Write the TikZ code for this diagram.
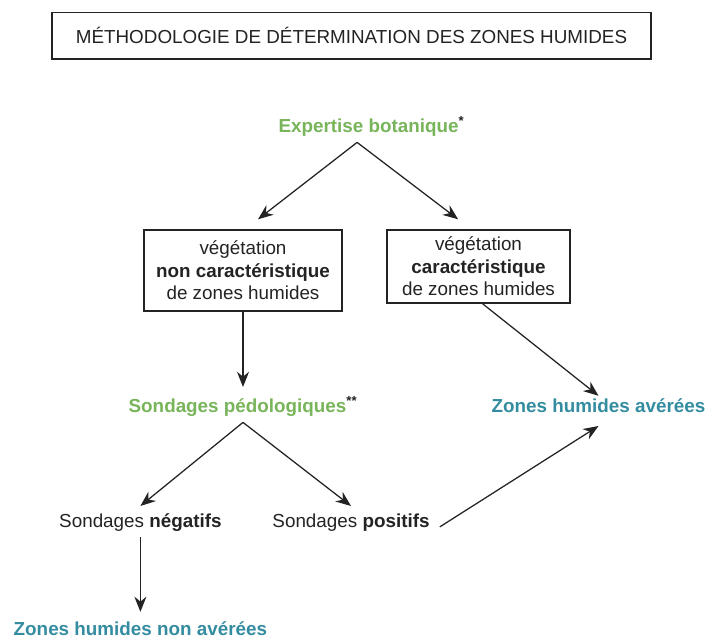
\documentclass[tikz,border=0pt]{standalone}
\usepackage{fontspec}
\setmainfont{Liberation Sans}
\usetikzlibrary{arrows.meta}
\definecolor{botgreen}{RGB}{120,180,90}
\definecolor{zoneblue}{RGB}{52,140,160}
\definecolor{inkgray}{RGB}{35,35,35}

\begin{document}
\begin{tikzpicture}[
  font=\fontsize{13.4pt}{16pt}\selectfont,
  text=inkgray,
  box/.style={draw=inkgray, line width=1pt, rectangle, align=center, inner sep=0pt},
  txt/.style={inner sep=0.15cm, text height=0.75em, text depth=0.25em},
  arr/.style={draw=inkgray, line width=0.9pt, -{Stealth[length=0.38cm, width=0.3cm]}},
]
\useasboundingbox (0,0) rectangle (17.75,16);

% --- Title ---
\node[box, minimum width=14.975cm, minimum height=1.16cm] (title) at (8.7875, 15.104)
  {MÉTHODOLOGIE DE DÉTERMINATION DES ZONES HUMIDES};

% --- Botanical step ---
\node[txt, text=botgreen] (expertise) at (9.2875, 12.7725)
  {\textbf{Expertise botanique}\textsuperscript{\color{inkgray}\textbf{*}}};

\node[box, minimum width=4.95cm, minimum height=2.025cm] (nonveg) at (6.075, 9.2375)
  {végétation\\\textbf{non caractéristique}\\de zones humides};
\node[box, minimum width=4.575cm, minimum height=1.825cm] (veg) at (11.9625, 9.3375)
  {végétation\\\textbf{caractéristique}\\de zones humides};

% --- Soil step ---
\node[txt, text=botgreen] (pedo) at (6.075, 5.7725)
  {\textbf{Sondages pédologiques}\textsuperscript{\color{inkgray}\textbf{**}}};
\node[txt, text=zoneblue] (avere) at (14.9625, 5.7725) {\textbf{Zones humides avérées}};

\node[txt] (neg) at (3.51, 2.8975) {Sondages \textbf{négatifs}};
\node[txt] (pos) at (8.775, 2.8975) {Sondages \textbf{positifs}};

\node[txt, text=zoneblue] (nonavere) at (3.51, 0.2) {\textbf{Zones humides non avérées}};

% --- Connectors ---
\draw[arr] ([xshift=-0.36cm]expertise.south) -- ([xshift=0.375cm, yshift=0.25cm]nonveg.north);
\draw[arr] ([xshift=-0.36cm]expertise.south) -- ([xshift=-0.51cm, yshift=0.25cm]veg.north);
\draw[arr] (nonveg.south) -- ([yshift=0.22cm]pedo.north);
\draw[arr] ([xshift=0.1cm]veg.south) -- (avere.north);
\draw[arr] (pedo.south) -- ([yshift=0.12cm]neg.north);
\draw[arr] (pedo.south) -- ([yshift=0.12cm]pos.north);
\draw[arr] ([xshift=0.1cm, yshift=-0.07cm]pos.east) -- ([yshift=-0.09cm]avere.south);
\draw[arr] (neg.south) -- ([yshift=0.17cm]nonavere.north);

\end{tikzpicture}
\end{document}
